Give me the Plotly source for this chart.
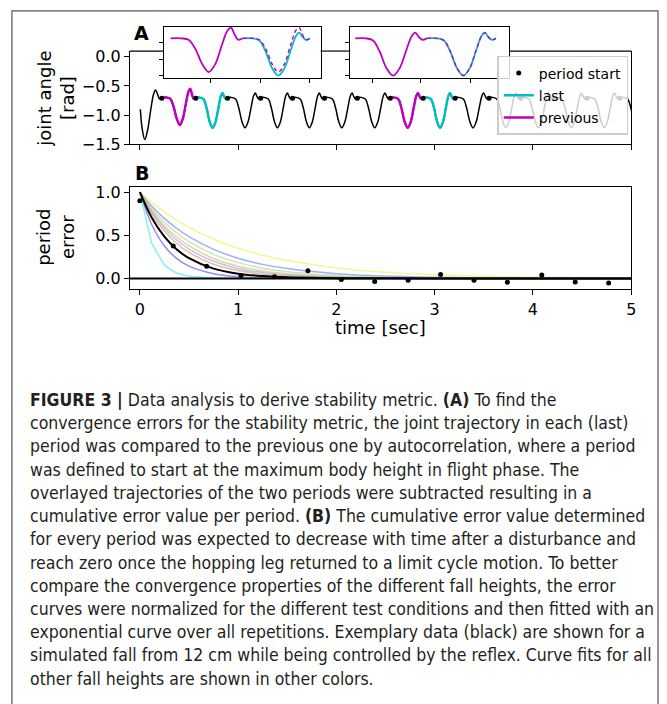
import plotly.graph_objects as go

W, H = 667, 704

# ---------------- Panel A data (joint angle trace) ----------------
PERIOD_STARTS = [0.223, 0.569, 0.893, 1.228, 1.553, 1.878, 2.213, 2.548,
                 2.883, 3.208, 3.553, 3.878, 4.213, 4.548, 4.883, 5.216]
DOT_ANGLE = -0.71
INIT_T = [0.005, 0.025, 0.05, 0.08, 0.11, 0.14, 0.16, 0.18, 0.20]
INIT_ANGLE = [-0.90, -1.25, -1.42, -1.25, -0.92, -0.64, -0.57, -0.64, -0.72]
PHASE = [0.00, 0.15, 0.25, 0.34, 0.44, 0.53, 0.62, 0.71, 0.79, 0.84, 0.89, 0.94]
TYPICAL_ANGLE = [-0.70, -0.70, -0.73, -0.88, -1.12, -1.22, -1.12, -0.88, -0.67, -0.62, -0.68, -0.72]
FIRST_ANGLE = [-0.70, -0.70, -0.72, -0.84, -1.06, -1.17, -1.06, -0.80, -0.59, -0.55, -0.65, -0.72]
PREV_IDX = [0, 7]
LAST_IDX = [1, 8]
INSET1_RANGE = [0.19, 0.944]
INSET2_RANGE = [2.525, 3.27]

# ---------------- Panel B data (period error) ----------------
PB_T = [0.0, 0.34, 0.68, 1.03, 1.37, 1.71, 2.05, 2.39, 2.73, 3.06, 3.40, 3.74, 4.09, 4.43, 4.77]
PB_ERR = [0.90, 0.375, 0.14, 0.035, 0.02, 0.09, -0.012, -0.037, -0.022, 0.045, -0.022,
          -0.045, 0.04, -0.04, -0.052]
FIT_T = [0, 0.12, 0.25, 0.37, 0.5, 0.75, 1.0, 1.25, 1.5, 2.0, 2.5, 3.0, 3.5, 4.0, 5.0]
FIT_YELLOW = [1.0, 0.882, 0.769, 0.678, 0.592, 0.455, 0.350, 0.269, 0.207, 0.122, 0.072, 0.043, 0.025, 0.015, 0.005]
FIT_BLUE = [1.0, 0.840, 0.696, 0.585, 0.484, 0.337, 0.235, 0.163, 0.114, 0.055, 0.027, 0.013, 0.006, 0.003, 0.001]
FIT_GREEN = [1.0, 0.815, 0.654, 0.533, 0.427, 0.279, 0.183, 0.119, 0.078, 0.033, 0.014, 0.006, 0.003, 0.001, 0.0]
FIT_ORANGE = [1.0, 0.791, 0.614, 0.486, 0.377, 0.232, 0.142, 0.087, 0.054, 0.020, 0.008, 0.003, 0.001, 0.0, 0.0]
FIT_SKY = [1.0, 0.773, 0.584, 0.451, 0.341, 0.199, 0.116, 0.068, 0.040, 0.014, 0.005, 0.002, 0.0, 0.0, 0.0]
FIT_SALMON = [1.0, 0.750, 0.549, 0.411, 0.301, 0.165, 0.091, 0.050, 0.027, 0.008, 0.002, 0.001, 0.0, 0.0, 0.0]
FIT_PURPLE = [1.0, 0.626, 0.377, 0.236, 0.142, 0.054, 0.020, 0.008, 0.003, 0.0, 0.0, 0.0, 0.0, 0.0, 0.0]
FIT_CYAN = [1.0, 0.407, 0.153, 0.062, 0.024, 0.004, 0.001, 0.0, 0.0, 0.0, 0.0, 0.0, 0.0, 0.0, 0.0]
FIT_BLACK = [1.0, 0.706, 0.484, 0.342, 0.235, 0.114, 0.055, 0.027, 0.013, 0.003, 0.001, 0.0, 0.0, 0.0, 0.0]

FITS = [
    (FIT_YELLOW, "rgba(240,240,90,0.65)", "spline"),
    (FIT_BLUE, "rgba(100,120,235,0.6)", "spline"),
    (FIT_GREEN, "rgba(150,220,140,0.6)", "spline"),
    (FIT_ORANGE, "rgba(245,175,100,0.65)", "spline"),
    (FIT_SKY, "rgba(110,185,240,0.65)", "spline"),
    (FIT_SALMON, "rgba(240,130,100,0.6)", "spline"),
    (FIT_PURPLE, "rgba(95,80,220,0.65)", "spline"),
    (FIT_CYAN, "rgba(80,235,235,0.7)", "linear"),
]

CAPTION = [
    "<b>FIGURE 3 |</b> Data analysis to derive stability metric. <b>(A)</b> To find the",
    "convergence errors for the stability metric, the joint trajectory in each (last)",
    "period was compared to the previous one by autocorrelation, where a period",
    "was defined to start at the maximum body height in flight phase. The",
    "overlayed trajectories of the two periods were subtracted resulting in a",
    "cumulative error value per period. <b>(B)</b> The cumulative error value determined",
    "for every period was expected to decrease with time after a disturbance and",
    "reach zero once the hopping leg returned to a limit cycle motion. To better",
    "compare the convergence properties of the different fall heights, the error",
    "curves were normalized for the different test conditions and then fitted with an",
    "exponential curve over all repetitions. Exemplary data (black) are shown for a",
    "simulated fall from 12 cm while being controlled by the reflex. Curve fits for all",
    "other fall heights are shown in other colors.",
]

MAGENTA = "#bf00bf"
CYAN = "#00bfbf"
FONT = "DejaVu Sans"


def px(x):
    return x / W


def py(y):
    return 1 - y / H


def period_points(i, vals=None):
    s, e = PERIOD_STARTS[i], PERIOD_STARTS[i + 1]
    if vals is None:
        vals = FIRST_ANGLE if i == 0 else TYPICAL_ANGLE
    ts = [s + p * (e - s) for p in PHASE] + [e]
    vs = list(vals) + [vals[0]]
    return ts, vs


n_periods = len(PERIOD_STARTS) - 1
full_t = list(INIT_T)
full_v = list(INIT_ANGLE)
for i in range(n_periods):
    ts, vs = period_points(i)
    full_t += ts[:-1]
    full_v += vs[:-1]

fig = go.Figure()

# main black trace
fig.add_trace(go.Scatter(x=full_t, y=full_v, mode="lines", line=dict(color="black", width=1.5, shape="spline"),
                         xaxis="x", yaxis="y", showlegend=False, hoverinfo="skip"))
for k, i in enumerate(PREV_IDX):
    ts, vs = period_points(i)
    fig.add_trace(go.Scatter(x=ts, y=vs, mode="lines", line=dict(color=MAGENTA, width=2.5, shape="spline"),
                             xaxis="x", yaxis="y", name="previous", legendrank=3,
                             legendgroup="prev", showlegend=(k == 0)))
for k, i in enumerate(LAST_IDX):
    ts, vs = period_points(i)
    fig.add_trace(go.Scatter(x=ts, y=vs, mode="lines", line=dict(color=CYAN, width=2.5, shape="spline"),
                             xaxis="x", yaxis="y", name="last", legendrank=2,
                             legendgroup="last", showlegend=(k == 0)))
fig.add_trace(go.Scatter(x=PERIOD_STARTS[:n_periods], y=[DOT_ANGLE] * n_periods, mode="markers",
                         marker=dict(color="black", size=5), xaxis="x", yaxis="y",
                         name="period start", legendrank=1, legendgroup="dots"))

# insets
for ax, (pi, li) in zip(["3", "4"], zip(PREV_IDX, LAST_IDX)):
    ts_p, vs_p = period_points(pi)
    ts_l, vs_l = period_points(li)
    ts_shift, vs_shift = period_points(li, FIRST_ANGLE if pi == 0 else TYPICAL_ANGLE)
    fig.add_trace(go.Scatter(x=ts_p, y=vs_p, mode="lines", line=dict(color=MAGENTA, width=1.8, shape="spline"),
                             xaxis="x" + ax, yaxis="y" + ax, showlegend=False))
    fig.add_trace(go.Scatter(x=ts_l, y=vs_l, mode="lines", line=dict(color=CYAN, width=1.8, shape="spline"),
                             xaxis="x" + ax, yaxis="y" + ax, showlegend=False))
    fig.add_trace(go.Scatter(x=ts_shift, y=vs_shift, mode="lines",
                             line=dict(color=MAGENTA, width=1.4, dash="4px,3px", shape="spline"),
                             xaxis="x" + ax, yaxis="y" + ax, showlegend=False))

# panel B
for vals, col, shp in FITS:
    fig.add_trace(go.Scatter(x=FIT_T, y=vals, mode="lines", line=dict(color=col, width=1.5, shape=shp),
                             xaxis="x2", yaxis="y2", showlegend=False))
fig.add_trace(go.Scatter(x=FIT_T, y=FIT_BLACK, mode="lines", line=dict(color="black", width=2, shape="spline"),
                         xaxis="x2", yaxis="y2", showlegend=False))
fig.add_trace(go.Scatter(x=PB_T, y=PB_ERR, mode="markers", marker=dict(color="black", size=5),
                         xaxis="x2", yaxis="y2", showlegend=False))

axis_common = dict(showline=True, linecolor="black", linewidth=1.2, ticks="outside", ticklen=5,
                   tickwidth=1.2, tickcolor="black", showgrid=False, zeroline=False,
                   tickfont=dict(family=FONT, size=16, color="black"))
main_dom = [px(131), px(636)]

fig.update_layout(
    width=W, height=H, margin=dict(l=0, r=0, t=0, b=0),
    paper_bgcolor="white", plot_bgcolor="white",
    xaxis=dict(axis_common, domain=main_dom, range=[-0.1, 5.0], tickvals=[0, 1, 2, 3, 4, 5],
               showticklabels=False, anchor="y"),
    yaxis=dict(axis_common, domain=[py(143), py(48)], range=[-1.5, 0.1], tickvals=[0, -0.5, -1.0, -1.5],
               ticktext=["0.0", "\u22120.5", "\u22121.0", "\u22121.5"], mirror=True, anchor="x"),
    xaxis2=dict(axis_common, domain=main_dom, range=[-0.1, 5.0], tickvals=[0, 1, 2, 3, 4, 5],
                ticktext=["0", "1", "2", "3", "4", "5"], mirror=True, anchor="y2"),
    yaxis2=dict(axis_common, domain=[py(291), py(187)], range=[-0.125, 1.057], tickvals=[0, 0.5, 1.0],
                ticktext=["0.0", "0.5", "1.0"], mirror=True, anchor="x2"),
    xaxis3=dict(axis_common, domain=[px(165), px(323)], range=INSET1_RANGE, tickvals=[0.415, 0.653, 0.891],
                showticklabels=False, mirror=True, anchor="y3", ticklen=4),
    yaxis3=dict(axis_common, domain=[py(75), py(23)], range=[-1.247, -0.535], tickvals=[-0.754, -0.99, -1.225],
                showticklabels=False, mirror=True, anchor="x3", ticklen=4),
    xaxis4=dict(axis_common, domain=[px(353), px(513)], range=INSET2_RANGE, tickvals=[2.628, 2.856, 3.088],
                showticklabels=False, mirror=True, anchor="y4", ticklen=4),
    yaxis4=dict(axis_common, domain=[py(75), py(23)], range=[-1.247, -0.535], tickvals=[-0.754, -0.99, -1.225],
                showticklabels=False, mirror=True, anchor="x4", ticklen=4),
    legend=dict(x=px(633), y=py(53), xanchor="right", yanchor="top", bgcolor="rgba(255,255,255,0.8)",
                bordercolor="#cccccc", borderwidth=1.5, font=dict(family=FONT, size=14, color="black"),
                tracegroupgap=1, itemwidth=30, traceorder="grouped"),
)

shapes = [
    # outer frame
    dict(type="rect", xref="paper", yref="paper", x0=px(12), x1=px(663), y0=py(730), y1=py(7),
         line=dict(color="#555555", width=1.2), fillcolor="rgba(0,0,0,0)"),
    # zero line in panel B
    dict(type="line", xref="x2 domain", yref="y2", x0=0, x1=1, y0=0, y1=0,
         line=dict(color="black", width=2), layer="above"),
]
# top spine of panel A, interrupted by the insets
for a, b in [(131, 165), (323, 353), (513, 636)]:
    shapes.append(dict(type="line", xref="paper", yref="paper", x0=px(a), x1=px(b), y0=py(48), y1=py(48),
                       line=dict(color="black", width=1.2)))
fig.update_layout(shapes=shapes)

ann = [
    dict(text="<b>A</b>", x=px(143), y=py(30), font=dict(family=FONT, size=19, color="black")),
    dict(text="<b>B</b>", x=px(143), y=py(172), font=dict(family=FONT, size=19, color="black")),
    dict(text="joint angle<br>[rad]", x=px(56), y=py(97), textangle=-90,
         font=dict(family=FONT, size=18, color="black")),
    dict(text="period<br>error", x=px(56), y=py(238), textangle=-90,
         font=dict(family=FONT, size=18, color="black")),
    dict(text="time [sec]", x=px(383), y=py(330), font=dict(family=FONT, size=18, color="black")),
]
for a in ann:
    a.update(xref="paper", yref="paper", showarrow=False, xanchor="center", yanchor="middle")

cap_font = dict(family="DejaVu Sans Condensed, Liberation Sans Narrow, Liberation Sans",
                size=17.5, color="#231f20")
for i, line in enumerate(CAPTION):
    ann.append(dict(text=line, x=px(28), y=py(404 + i * 23.7), xref="paper", yref="paper",
                    xanchor="left", yanchor="middle", showarrow=False, font=cap_font))
fig.update_layout(annotations=ann)

fig.write_html("out.html")
